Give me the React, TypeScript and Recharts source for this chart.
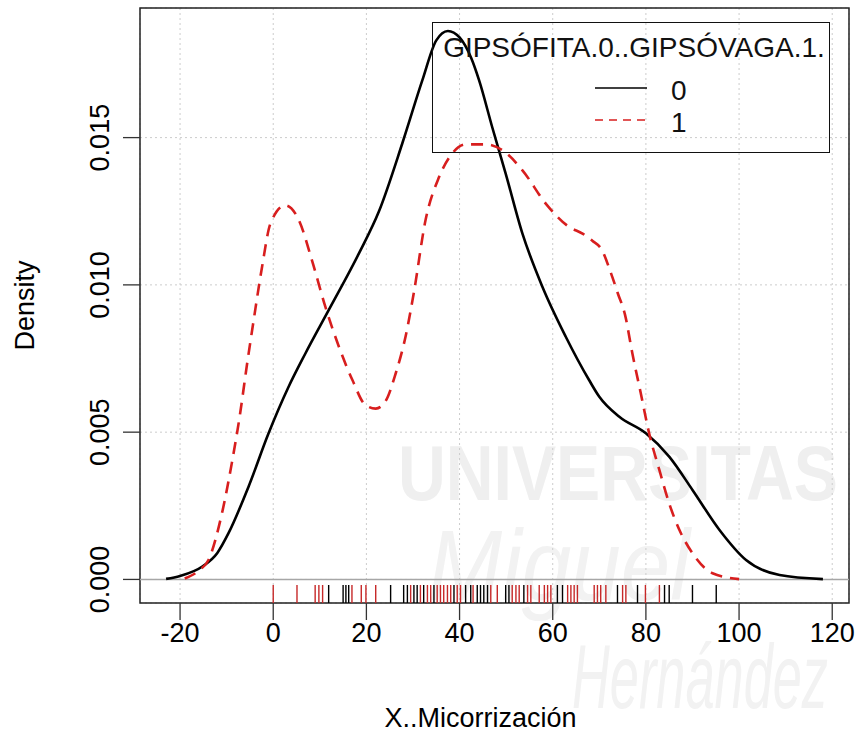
import React from "react";
import {
  CartesianGrid,
  ComposedChart,
  Legend,
  Line,
  ReferenceArea,
  ReferenceLine,
  Scatter,
  XAxis,
  YAxis,
} from "recharts";

const xTicks = [-20, 0, 20, 40, 60, 80, 100, 120];
const yTicks = [0, 0.005, 0.01, 0.015];
const xLimits = [-28.6, 123.6];
const yLimits = [-0.0008, 0.0194];

const legendTitle = "GIPSÓFITA.0..GIPSÓVAGA.1.";
const groupNames = ["0", "1"];
const xTitle = "X..Micorrización";
const yTitle = "Density";

// grupo 0 (gipsófita)
const gipsofitaX = [-23, -20, -15.3, -12, -9.6, -5.3, -1, 3.3, 6.9, 11.9, 18.4, 22.7, 27.7, 32, 35, 37.5, 40, 42.5, 44.2, 47, 49.9, 53.5, 57.8, 62.8, 67.8, 70, 74.3, 80, 85, 90, 95.8, 101.5, 108.7, 118];
const gipsofitaDensity = [0.00002, 0.00012, 0.00043, 0.0009, 0.00157, 0.00315, 0.00496, 0.00654, 0.00767, 0.00914, 0.01107, 0.0125, 0.0148, 0.01694, 0.0183, 0.01862, 0.0184, 0.0177, 0.01694, 0.01536, 0.01378, 0.01174, 0.00993, 0.00824, 0.00677, 0.0062, 0.00552, 0.00496, 0.00417, 0.00304, 0.00168, 0.00066, 0.00015, 0.00001];

// grupo 1 (gipsóvaga)
const gipsovagaX = [-19, -16, -13.9, -11, -8.9, -7.1, -5.7, -4.2, -2.4, -0.6, 2.6, 5.5, 8.3, 11.2, 14.1, 17, 19.8, 22, 24.1, 26.3, 28.4, 30.2, 32.7, 35.6, 38.4, 41.3, 45.6, 49.2, 53.5, 58.5, 63.5, 66.4, 68.5, 70.5, 72.5, 74, 75.5, 77.1, 78.9, 80.7, 82.9, 85, 87.2, 90, 94.3, 100];
const gipsovagaDensity = [0.00003, 0.0003, 0.00066, 0.00225, 0.00394, 0.00564, 0.00722, 0.0088, 0.01061, 0.01208, 0.0127, 0.0122, 0.01084, 0.00925, 0.0079, 0.00677, 0.00592, 0.0058, 0.00605, 0.007, 0.00824, 0.00975, 0.0122, 0.01366, 0.01446, 0.01477, 0.01477, 0.01457, 0.01389, 0.01276, 0.01197, 0.01174, 0.0115, 0.0112, 0.0104, 0.0097, 0.009, 0.00767, 0.00632, 0.00496, 0.00371, 0.00258, 0.00168, 0.00089, 0.00021, 0.00001];

// observaciones (rug)
const gipsofitaRug = [11.9, 15.0, 15.6, 16.2, 25.2, 28.0, 28.8, 30.2, 30.9, 32.3, 34.5, 38.8, 41.3, 42.4, 43.8, 44.5, 45.2, 46.0, 49.9, 50.6, 53.8, 61.0, 62.1, 73.9, 78.2, 84.0, 85.0, 90.0, 95.1];
const gipsovagaRug = [0, 5.1, 9.0, 9.8, 10.6, 16.9, 18.9, 19.9, 22.0, 29.5, 31.6, 33.1, 33.8, 35.2, 35.9, 36.6, 37.4, 38.1, 39.5, 40.2, 42.9, 46.7, 48.1, 51.3, 52.1, 52.8, 54.6, 55.3, 57.1, 58.2, 58.9, 59.6, 63.2, 63.9, 64.6, 65.3, 68.9, 69.6, 70.3, 71.4, 75.0, 75.7, 79.9, 82.9];

const RED = "#d81e1e";
const FONT = "'Liberation Sans', Arial, sans-serif";
const FS = 27;

const curve0 = gipsofitaX.map((x, i) => ({ x, d: gipsofitaDensity[i] }));
const curve1 = gipsovagaX.map((x, i) => ({ x, d: gipsovagaDensity[i] }));
const rug0 = gipsofitaRug.map((x) => ({ x, d: yLimits[0] }));
const rug1 = gipsovagaRug.map((x) => ({ x, d: yLimits[0] }));

function XTick({ x, y, payload }: any) {
  return (
    <text x={x} y={y + 20} textAnchor="middle" fontFamily={FONT} fontSize={FS} fill="#000">
      {payload.value}
    </text>
  );
}

function YTick({ x, y, payload }: any) {
  const bx = x - 12;
  return (
    <text x={bx} y={y} transform={`rotate(-90 ${bx} ${y})`} textAnchor="middle" fontFamily={FONT} fontSize={FS} fill="#000">
      {Number(payload.value).toFixed(3)}
    </text>
  );
}

function XTitle({ viewBox }: any) {
  const vb = viewBox || { x: 140, y: 603, width: 709 };
  return (
    <text x={vb.x + vb.width / 2 - 14} y={vb.y + 124} textAnchor="middle" fontFamily={FONT} fontSize={FS} fill="#000">
      {xTitle}
    </text>
  );
}

function YTitle({ viewBox }: any) {
  const vb = viewBox || { y: 8, height: 595 };
  const cy = vb.y + vb.height / 2;
  return (
    <text x={34} y={cy} transform={`rotate(-90 34 ${cy})`} textAnchor="middle" fontFamily={FONT} fontSize={FS} fill="#000">
      {yTitle}
    </text>
  );
}

function rugMark(color: string) {
  return (props: any) => (
    <line x1={props.cx} x2={props.cx} y1={props.cy} y2={props.cy - 18} stroke={color} strokeWidth={1.4} />
  );
}

function LegendBox() {
  return (
    <div style={{ width: 398, height: 131, boxSizing: "border-box", border: "1.5px solid #111" }}>
      <svg width={396} height={128} style={{ display: "block" }}>
        <text x={201} y={34} textAnchor="middle" fontFamily={FONT} fontSize={28} fill="#111">
          {legendTitle}
        </text>
        <line x1={162} x2={214} y1={65} y2={65} stroke="#000" strokeWidth={1.5} />
        <text x={238} y={77} fontFamily={FONT} fontSize={28} fill="#111">
          {groupNames[0]}
        </text>
        <line x1={162} x2={214} y1={97} y2={97} stroke={RED} strokeWidth={1.5} strokeDasharray="8 6" />
        <text x={238} y={109} fontFamily={FONT} fontSize={28} fill="#111">
          {groupNames[1]}
        </text>
      </svg>
    </div>
  );
}

function Watermark() {
  return (
    <svg width={856} height={733} style={{ position: "absolute", left: 0, top: 0 }}>
      <text x={398} y={500} textLength={440} lengthAdjust="spacingAndGlyphs" fontFamily={FONT} fontWeight="bold" fontSize={78} fill="#efefef">
        UNIVERSITAS
      </text>
      <text x={428} y={600} textLength={262} lengthAdjust="spacingAndGlyphs" fontFamily={FONT} fontStyle="italic" fontSize={100} fill="#f2f2f2">
        Miguel
      </text>
      <text x={572} y={708} textLength={256} lengthAdjust="spacingAndGlyphs" fontFamily={FONT} fontStyle="italic" fontSize={90} fill="#f2f2f2">
        Hernández
      </text>
    </svg>
  );
}

export default function App() {
  return (
    <div style={{ position: "absolute", left: 0, top: 0, width: 856, height: 733, background: "#fff" }}>
      <Watermark />
      <div style={{ position: "absolute", left: 0, top: 0 }}>
        <ComposedChart width={856} height={733} margin={{ top: 8, right: 7, bottom: 0, left: 0 }}>
          <CartesianGrid stroke="#cccccc" strokeDasharray="2 3" strokeWidth={1} />
          <XAxis
            type="number"
            dataKey="x"
            domain={xLimits}
            ticks={xTicks}
            interval={0}
            allowDataOverflow
            axisLine={false}
            tickLine={{ stroke: "#333", strokeWidth: 1.3 }}
            tickSize={17}
            height={130}
            tick={<XTick />}
            label={<XTitle />}
          />
          <YAxis
            type="number"
            dataKey="d"
            domain={yLimits}
            ticks={yTicks}
            interval={0}
            allowDataOverflow
            axisLine={false}
            tickLine={{ stroke: "#333", strokeWidth: 1.3 }}
            tickSize={17}
            width={140}
            tick={<YTick />}
            label={<YTitle />}
          />
          <ReferenceLine y={0} stroke="#a6a6a6" strokeWidth={1.5} />
          <ReferenceArea
            x1={xLimits[0]}
            x2={xLimits[1]}
            y1={yLimits[0]}
            y2={yLimits[1]}
            fill="none"
            fillOpacity={0}
            stroke="#222"
            strokeWidth={1.5}
            ifOverflow="visible"
          />
          <Line data={curve0} dataKey="d" type="monotone" stroke="#000" strokeWidth={2.6} dot={false} isAnimationActive={false} />
          <Line data={curve1} dataKey="d" type="monotone" stroke={RED} strokeWidth={2.6} strokeDasharray="12 8" dot={false} isAnimationActive={false} />
          <Scatter data={rug0} dataKey="d" shape={rugMark("#000")} isAnimationActive={false} />
          <Scatter data={rug1} dataKey="d" shape={rugMark("#c62828")} isAnimationActive={false} />
          <Legend
            layout="horizontal"
            verticalAlign="middle"
            align="center"
            content={<LegendBox />}
            wrapperStyle={{ left: 432, top: 22, width: 398, height: 131 }}
          />
        </ComposedChart>
      </div>
    </div>
  );
}
